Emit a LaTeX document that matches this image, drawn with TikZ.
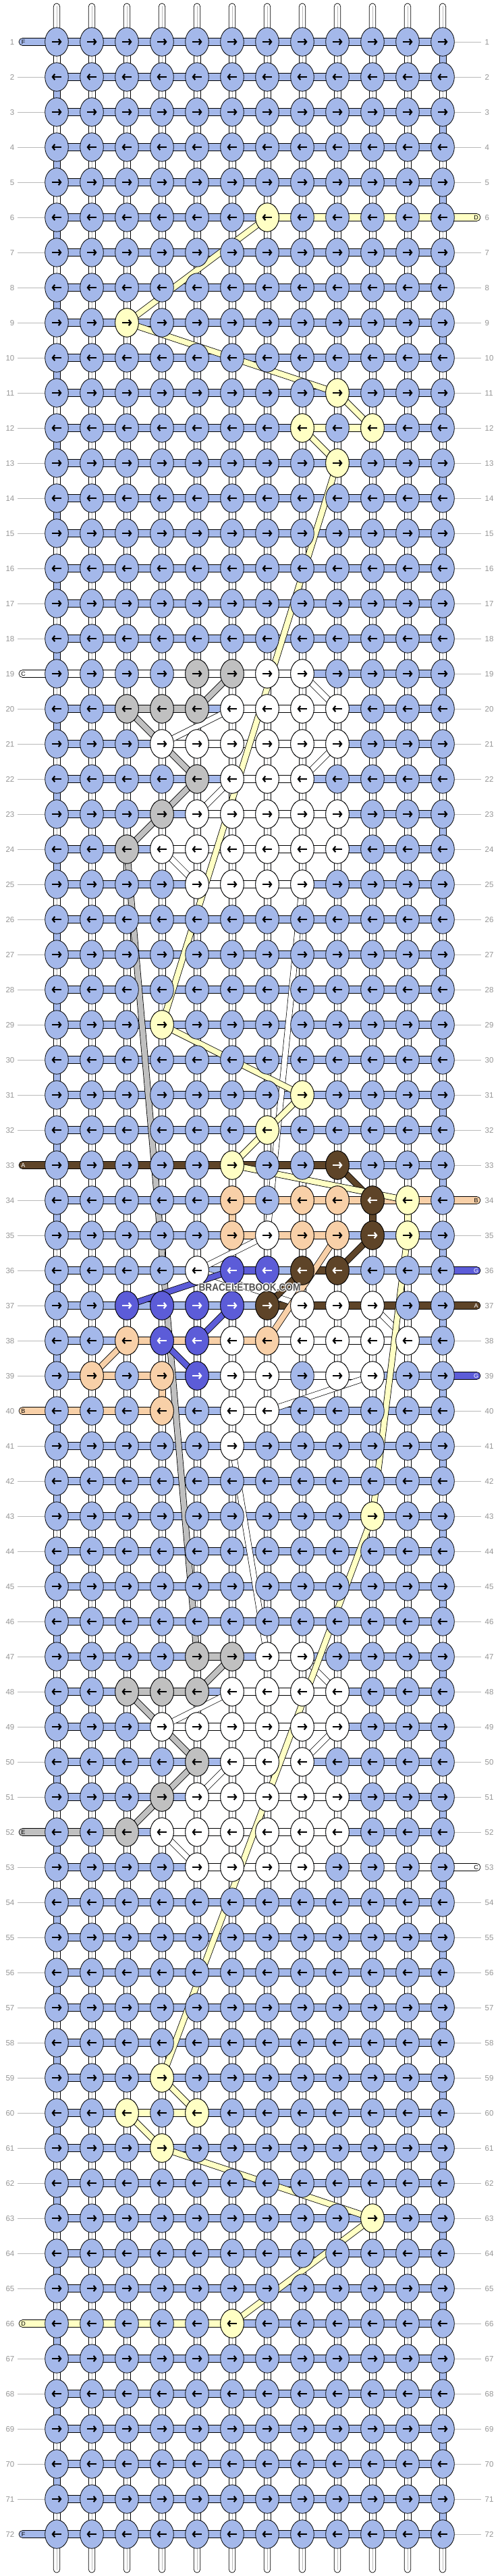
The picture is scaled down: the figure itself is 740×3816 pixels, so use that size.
\documentclass[tikz,border=0pt]{standalone}
\usepackage{fontspec}
\setmainfont{Liberation Sans}
\usetikzlibrary{arrows.meta}
\definecolor{kb}{RGB}{164,184,234}
\definecolor{ky}{RGB}{255,255,196}
\definecolor{kg}{RGB}{192,192,192}
\definecolor{kp}{RGB}{248,208,168}
\definecolor{kd}{RGB}{94,68,40}
\definecolor{kn}{RGB}{92,92,216}
\definecolor{lab}{RGB}{150,150,150}
\definecolor{labl}{RGB}{185,185,185}
\definecolor{wmk}{RGB}{80,80,80}
\newcommand\kn[4]{%
  \filldraw[fill=#3,draw=black,line width=0.8pt] ({32+52*#2},{10+52*#1}) ellipse [x radius=17.3pt,y radius=21.2pt];
  \ifodd#1\relax
    \draw[#4,line width=2.2pt,-{Straight Barb[length=3.4pt,width=8.5pt]}] ({25+52*#2},{10+52*#1}) -- ({39.5+52*#2},{10+52*#1});
  \else
    \draw[#4,line width=2.2pt,-{Straight Barb[length=3.4pt,width=8.5pt]}] ({39+52*#2},{10+52*#1}) -- ({24.5+52*#2},{10+52*#1});
  \fi}
\newcommand\KR[2]{\foreach \c/\cc in {#2}{\kn{#1}{\c}{\cc}{black}}}
\newcommand\KD[2]{\foreach \c/\cc in {#2}{\kn{#1}{\c}{\cc}{white}}}
\newcommand\hb[3]{\filldraw[fill=#3,draw=black,line width=0.7pt] ({32+52*#2},{4.5+52*#1}) rectangle ({84+52*#2},{15.5+52*#1});}
\newcommand\HR[2]{\foreach \c/\cc in {#2}{\hb{#1}{\c}{\cc}}}
\newcommand\vb[3]{\filldraw[fill=#3,draw=black,line width=0.7pt] ({27+52*#2},{10+52*#1}) rectangle ({37+52*#2},{62+52*#1});}
\newcommand\vw[2]{\vb{#1}{#2}{white}\draw[gray!55,line width=0.5pt] ({32+52*#2},{10+52*#1}) -- ({32+52*#2},{62+52*#1});}
\newcommand\VR[2]{\foreach \c/\cc in {#2}{\vb{#1}{\c}{\cc}}}
\newcommand\CL[5]{%
  \draw[black,line width=9.6pt] ({32+52*#2},{10+52*#1}) -- ({32+52*#4},{10+52*#3});
  \draw[#5,line width=8pt] ({32+52*#2},{10+52*#1}) -- ({32+52*#4},{10+52*#3});}
\newcommand\WL[4]{%
  \draw[black,line width=9.2pt] ({32+52*#2},{10+52*#1}) -- ({32+52*#4},{10+52*#3});
  \draw[white,line width=7.8pt] ({32+52*#2},{10+52*#1}) -- ({32+52*#4},{10+52*#3});}
\newcommand\LS[4]{% row color letter lettercolor
  \filldraw[fill=#2,draw=black,line width=0.7pt,rounded corners=5.4pt] (28,{4.5+52*#1}) rectangle (92,{15.5+52*#1});
  \node[text=#4,font=\fontsize{9}{9}\selectfont,inner sep=0pt] (ls#1) at (34.5,{10.3+52*#1}) {#3};}
\newcommand\RS[4]{%
  \filldraw[fill=#2,draw=black,line width=0.7pt,rounded corners=5.4pt] (648,{4.5+52*#1}) rectangle (712,{15.5+52*#1});
  \node[text=#4,font=\fontsize{9}{9}\selectfont,inner sep=0pt] (rs#1) at (705.5,{10.3+52*#1}) {#3};}
\newcommand\wmtext{\scalebox{0.88}[1]{BRACELETBOOK.COM}}
\begin{document}
\begin{tikzpicture}[x=1pt,y=-1pt]
\useasboundingbox (0,0) rectangle (740,3816);
\fill[white] (0,0) rectangle (740,3816);
% row labels
\foreach \r in {1,...,72}{
  \node[anchor=east,text=lab,font=\fontsize{11.5}{11.5}\selectfont,inner sep=0pt] (ll\r) at (21.5,{10.5+52*\r}) {\r};
  \node[anchor=west,text=lab,font=\fontsize{11.5}{11.5}\selectfont,inner sep=0pt] (rl\r) at (718.5,{10.5+52*\r}) {\r};
}
\foreach \r in {2,3,...,18,20,21,...,32,34,35,...,39,41,42,...,51,53,54,...,65,67,68,...,71}
  \draw[labl,line width=0.8pt] (26,{10+52*\r}) -- (70,{10+52*\r});
\foreach \r in {1,2,...,5,7,8,...,33,35,38,40,41,...,52,54,55,...,72}
  \draw[labl,line width=0.8pt] (670,{10+52*\r}) -- (713,{10+52*\r});
% top and bottom tubes
\foreach \c in {1,...,12}{
  \filldraw[fill=white,draw=black,line width=0.7pt,rounded corners=4.7pt] ({27.3+52*\c},5) rectangle ({36.7+52*\c},70);
  \draw[gray!55,line width=0.5pt] ({32+52*\c},9) -- ({32+52*\c},62);
  \filldraw[fill=white,draw=black,line width=0.7pt,rounded corners=4.7pt] ({27.3+52*\c},3746) rectangle ({36.7+52*\c},3811);
  \draw[gray!55,line width=0.5pt] ({32+52*\c},3754) -- ({32+52*\c},3807);
}
% vertical connectors
\foreach \r in {1,...,71}{
  \foreach \c in {1,...,12}{\vw{\r}{\c}}
  \ifodd\r\relax \vb{\r}{12}{kb}\else \vb{\r}{1}{kb}\fi
}
\VR{34}{6/kp,10/kd,11/ky}
\VR{39}{4/kp}
% horizontal bars
\foreach \r in {1,...,72}{\foreach \c in {1,...,11}{\hb{\r}{\c}{kb}}}
\HR{6}{7/ky,8/ky,9/ky,10/ky,11/ky}
\HR{12}{8/ky,9/ky}
\HR{19}{1/white,2/white,3/white,4/white,5/white,6/white,7/white}
\HR{20}{3/kg,4/kg,6/white,7/white,8/white}
\HR{21}{4/white,5/white,6/white,7/white,8/white}
\HR{22}{6/white,7/white}
\HR{23}{5/white,6/white,7/white,8/white}
\HR{24}{4/white,5/white,6/white,7/white,8/white}
\HR{25}{5/white,6/white,7/white}
\HR{33}{1/kd,2/kd,3/kd,4/kd,5/kd,6/kd,7/kd,8/kd}
\HR{34}{6/kp,7/kp,8/kp,9/kp,10/kp,11/kp}
\HR{35}{6/kp,7/kp,8/kp}
\HR{36}{6/kn,8/kd}
\HR{37}{7/kd,8/kd,9/kd,10/kd,11/kd}
\HR{38}{3/kp,4/kp,5/kp,6/kp,7/white,8/white,9/white,10/white}
\HR{39}{2/kp,3/kp,6/white,7/white,8/white,9/white}
\HR{40}{1/kp,2/kp,3/kp,6/white}
\HR{47}{5/kg,7/white}
\HR{48}{3/kg,4/kg,6/white,7/white,8/white}
\HR{49}{4/white,5/white,6/white,7/white,8/white}
\HR{50}{6/white,7/white}
\HR{51}{5/white,6/white,7/white,8/white}
\HR{52}{1/kg,2/kg,4/white,5/white,6/white,7/white,8/white}
\HR{53}{5/white,6/white,7/white,8/white,9/white,10/white,11/white}
\HR{60}{3/ky,4/ky}
\HR{66}{1/ky,2/ky,3/ky,4/ky,5/ky}
% stubs
\LS{1}{kb}{F}{black}
\LS{19}{white}{C}{black}
\LS{33}{kd}{A}{white}
\LS{40}{kp}{B}{black}
\LS{52}{kg}{E}{black}
\LS{66}{ky}{D}{black}
\LS{72}{kb}{F}{black}
\RS{6}{ky}{D}{black}
\RS{34}{kp}{B}{black}
\RS{36}{kn}{G}{white}
\RS{37}{kd}{A}{white}
\RS{39}{kn}{G}{white}
\RS{53}{white}{C}{black}
% carried strands
\WL{19}{8}{20}{9} \WL{20}{6}{21}{4} \WL{21}{9}{22}{8} \WL{22}{6}{23}{5} \WL{24}{4}{25}{5}
\WL{25}{8}{35}{7} \WL{35}{7}{36}{5} \WL{36}{5}{37}{8} \WL{37}{10}{38}{11} \WL{39}{10}{40}{7}
\WL{41}{6}{47}{7} \WL{47}{8}{48}{9} \WL{48}{6}{49}{4} \WL{49}{9}{50}{8} \WL{50}{6}{51}{5} \WL{52}{4}{53}{5}
\CL{19}{6}{20}{5}{kg} \CL{20}{3}{22}{5}{kg} \CL{22}{5}{23}{4}{kg} \CL{23}{4}{24}{3}{kg} \CL{24}{3}{47}{5}{kg}
\CL{47}{6}{48}{5}{kg} \CL{48}{3}{50}{5}{kg} \CL{50}{5}{51}{4}{kg} \CL{51}{4}{52}{3}{kg}
\CL{33}{9}{34}{10}{kd} \CL{35}{10}{36}{9}{kd} \CL{36}{8}{37}{7}{kd}
\CL{35}{9}{38}{7}{kp} \CL{38}{3}{39}{2}{kp}
\CL{36}{6}{37}{3}{kn} \CL{37}{6}{38}{5}{kn} \CL{38}{4}{39}{5}{kn}
\CL{6}{7}{9}{3}{ky} \CL{9}{3}{11}{9}{ky} \CL{11}{9}{12}{10}{ky} \CL{12}{8}{13}{9}{ky} \CL{13}{9}{29}{4}{ky}
\CL{29}{4}{31}{8}{ky} \CL{31}{8}{32}{7}{ky} \CL{32}{7}{33}{6}{ky} \CL{33}{6}{34}{11}{ky} \CL{35}{11}{43}{10}{ky}
\CL{43}{10}{59}{4}{ky} \CL{59}{4}{60}{5}{ky} \CL{60}{3}{61}{4}{ky} \CL{61}{4}{63}{10}{ky} \CL{63}{10}{66}{6}{ky}
% knots
\foreach \r in {1,...,72}{\foreach \c in {1,...,12}{\kn{\r}{\c}{kb}{black}}}
\KR{6}{7/ky}
\KR{9}{3/ky}
\KR{11}{9/ky}
\KR{12}{8/ky,10/ky}
\KR{13}{9/ky}
\KR{19}{5/kg,6/kg,7/white,8/white}
\KR{20}{3/kg,4/kg,5/kg,6/white,7/white,8/white,9/white}
\KR{21}{4/white,5/white,6/white,7/white,8/white,9/white}
\KR{22}{5/kg,6/white,7/white,8/white}
\KR{23}{4/kg,5/white,6/white,7/white,8/white,9/white}
\KR{24}{3/kg,4/white,5/white,6/white,7/white,8/white,9/white}
\KR{25}{5/white,6/white,7/white,8/white}
\KR{29}{4/ky}
\KR{31}{8/ky}
\KR{32}{7/ky}
\KR{33}{6/ky} \KD{33}{9/kd}
\KR{34}{6/kp,8/kp,9/kp,11/ky} \KD{34}{10/kd}
\KR{35}{6/kp,7/white,8/kp,9/kp,11/ky} \KD{35}{10/kd}
\KR{36}{5/white} \KD{36}{6/kn,7/kn,8/kd,9/kd}
\KD{37}{3/kn,4/kn,5/kn,6/kn,7/kd} \KR{37}{8/white,9/white,10/white}
\KR{38}{3/kp,6/white,7/kp,8/white,9/white,10/white,11/white} \KD{38}{4/kn,5/kn}
\KR{39}{2/kp,4/kp,6/white,7/white,9/white,10/white} \KD{39}{5/kn}
\KR{40}{4/kp,6/white,7/white}
\KR{41}{6/white}
\KR{43}{10/ky}
\KR{47}{5/kg,6/kg,7/white,8/white}
\KR{48}{3/kg,4/kg,5/kg,6/white,7/white,8/white,9/white}
\KR{49}{4/white,5/white,6/white,7/white,8/white,9/white}
\KR{50}{5/kg,6/white,7/white,8/white}
\KR{51}{4/kg,5/white,6/white,7/white,8/white,9/white}
\KR{52}{3/kg,4/white,5/white,6/white,7/white,8/white,9/white}
\KR{53}{5/white,6/white,7/white,8/white}
\KR{59}{4/ky}
\KR{60}{3/ky,5/ky}
\KR{61}{4/ky}
\KR{63}{10/ky}
\KR{66}{6/ky}
% watermark with light halo
\foreach \dx/\dy in {-0.9/0,0.9/0,0/-0.9,0/0.9,-0.7/-0.7,0.7/0.7,-0.7/0.7,0.7/-0.7}
  \node[text=white,font=\bfseries\fontsize{15.5}{15.5}\selectfont,inner sep=0pt] at ({370+\dx},{1907+\dy}) {\wmtext};
\node[text=wmk,font=\bfseries\fontsize{15.5}{15.5}\selectfont,inner sep=0pt] (wm) at (370,1907) {\wmtext};
\end{tikzpicture}
\end{document}
